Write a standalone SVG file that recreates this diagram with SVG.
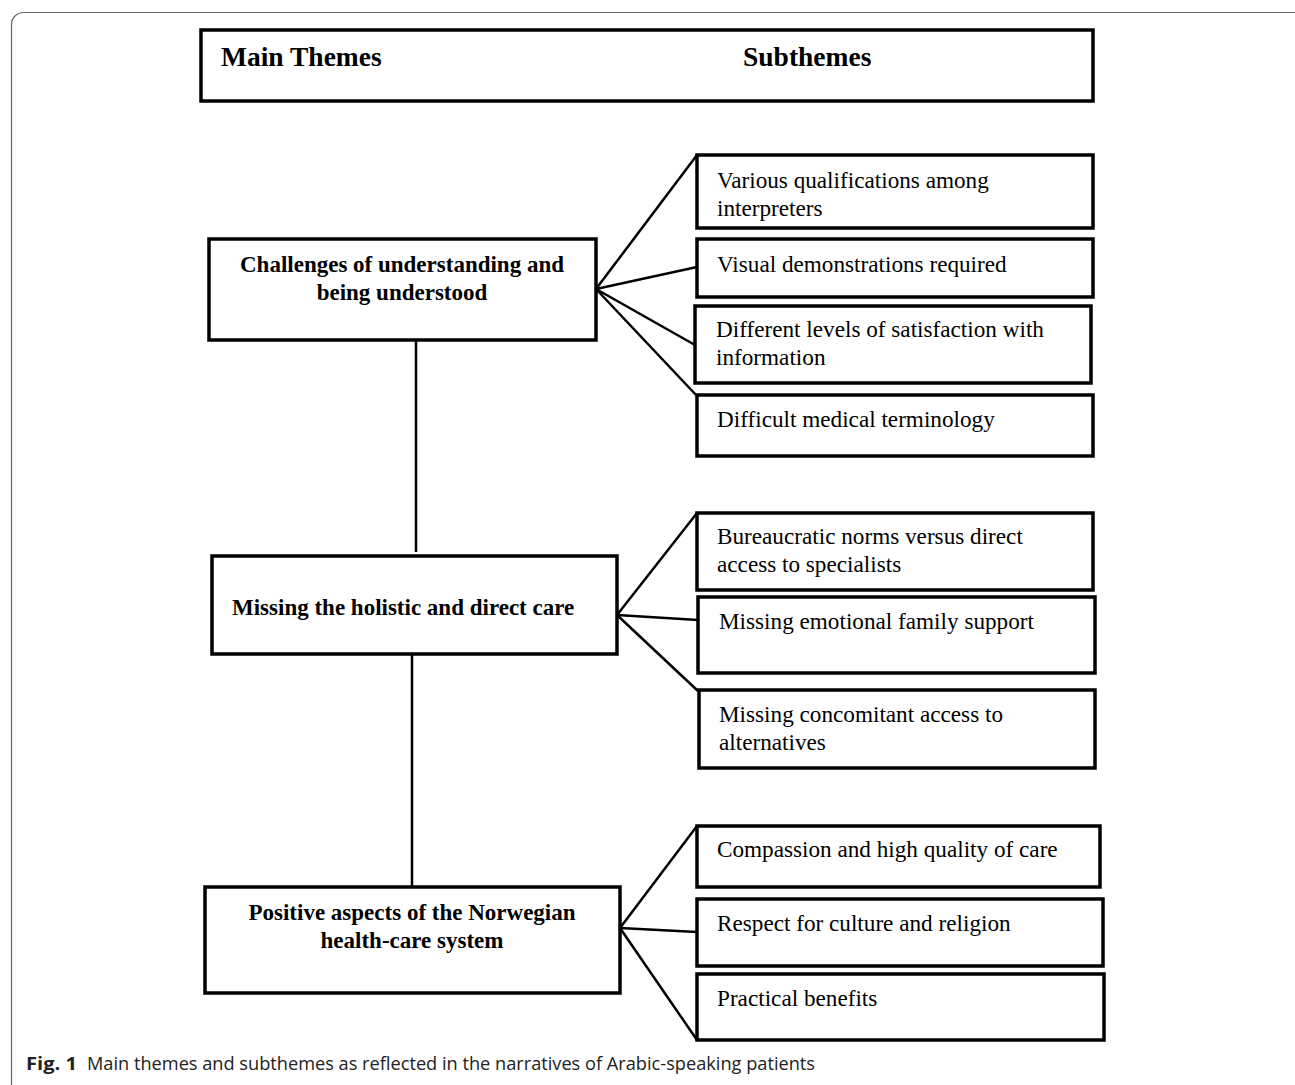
<svg xmlns="http://www.w3.org/2000/svg" width="1295" height="1085" viewBox="0 0 1295 1085">
<style>
.box{fill:#fff;stroke:#000;stroke-width:3.5}
.con{stroke:#000;stroke-width:2.5;fill:none}
.main{font-family:"Liberation Serif","Times New Roman",serif;font-weight:bold;font-size:23px;fill:#000;text-anchor:middle}
.sub{font-family:"Liberation Serif","Times New Roman",serif;font-size:23.2px;fill:#000}
.hdr{font-family:"Liberation Serif","Times New Roman",serif;font-weight:bold;font-size:27.5px;fill:#000}
.cap{font-family:"Open Sans","Noto Sans",sans-serif;font-size:18px;fill:#222}
</style>
<rect x="11.5" y="12.5" width="1300" height="1100" rx="12" fill="#fff" stroke="#666" stroke-width="1.2"/>
<g id="header">
<rect class="box" x="201" y="30" width="892" height="71"/>
<text class="hdr" x="221" y="66">Main Themes</text>
<text class="hdr" x="743" y="66">Subthemes</text>
</g>
<g id="connectors">
<line class="con" x1="416" y1="340" x2="416" y2="552"/>
<line class="con" x1="412" y1="654" x2="412" y2="887"/>
<line class="con" x1="596" y1="289" x2="697" y2="155"/>
<line class="con" x1="596" y1="289" x2="697" y2="267"/>
<line class="con" x1="596" y1="289" x2="695" y2="345"/>
<line class="con" x1="596" y1="289" x2="697" y2="396"/>
<line class="con" x1="617" y1="615" x2="697" y2="513"/>
<line class="con" x1="617" y1="615" x2="698" y2="620"/>
<line class="con" x1="617" y1="615" x2="698" y2="691"/>
<line class="con" x1="620" y1="928" x2="697" y2="826"/>
<line class="con" x1="620" y1="928" x2="697" y2="932"/>
<line class="con" x1="620" y1="928" x2="697" y2="1040"/>
</g>
<g id="main1">
<rect class="box" x="209" y="239" width="387" height="101"/>
<text class="main" x="402" y="272">Challenges of understanding and</text>
<text class="main" x="402" y="300">being understood</text>
</g>
<g id="main2">
<rect class="box" x="212" y="556" width="405" height="98"/>
<text class="main" x="232" y="615" style="text-anchor:start">Missing the holistic and direct care</text>
</g>
<g id="main3">
<rect class="box" x="205" y="887" width="415" height="106"/>
<text class="main" x="412" y="920">Positive aspects of the Norwegian</text>
<text class="main" x="412" y="948">health-care system</text>
</g>
<g id="subA">
<rect class="box" x="697" y="155" width="396" height="73"/>
<text class="sub" x="717" y="188">Various qualifications among</text>
<text class="sub" x="717" y="216">interpreters</text>
</g>
<g id="subB">
<rect class="box" x="697" y="239" width="396" height="58"/>
<text class="sub" x="717" y="272">Visual demonstrations required</text>
</g>
<g id="subC">
<rect class="box" x="695" y="306" width="396" height="77"/>
<text class="sub" x="716" y="337">Different levels of satisfaction with</text>
<text class="sub" x="716" y="365">information</text>
</g>
<g id="subD">
<rect class="box" x="697" y="395" width="396" height="61"/>
<text class="sub" x="717" y="427">Difficult medical terminology</text>
</g>
<g id="subE">
<rect class="box" x="697" y="513" width="396" height="77"/>
<text class="sub" x="717" y="544">Bureaucratic norms versus direct</text>
<text class="sub" x="717" y="572">access to specialists</text>
</g>
<g id="subF">
<rect class="box" x="698" y="597" width="397" height="76"/>
<text class="sub" x="719" y="629">Missing emotional family support</text>
</g>
<g id="subG">
<rect class="box" x="699" y="690" width="396" height="78"/>
<text class="sub" x="719" y="722">Missing concomitant access to</text>
<text class="sub" x="719" y="750">alternatives</text>
</g>
<g id="subH">
<rect class="box" x="697" y="826" width="403" height="61"/>
<text class="sub" x="717" y="857">Compassion and high quality of care</text>
</g>
<g id="subI">
<rect class="box" x="697" y="899" width="406" height="67"/>
<text class="sub" x="717" y="931">Respect for culture and religion</text>
</g>
<g id="subJ">
<rect class="box" x="697" y="974" width="407" height="66"/>
<text class="sub" x="717" y="1006">Practical benefits</text>
</g>
<g id="caption">
<text class="cap" x="26" y="1070" font-weight="bold" textLength="51" lengthAdjust="spacingAndGlyphs">Fig. 1</text>
<text class="cap" x="87" y="1070" textLength="728" lengthAdjust="spacingAndGlyphs">Main themes and subthemes as reflected in the narratives of Arabic-speaking patients</text>
</g>
</svg>
